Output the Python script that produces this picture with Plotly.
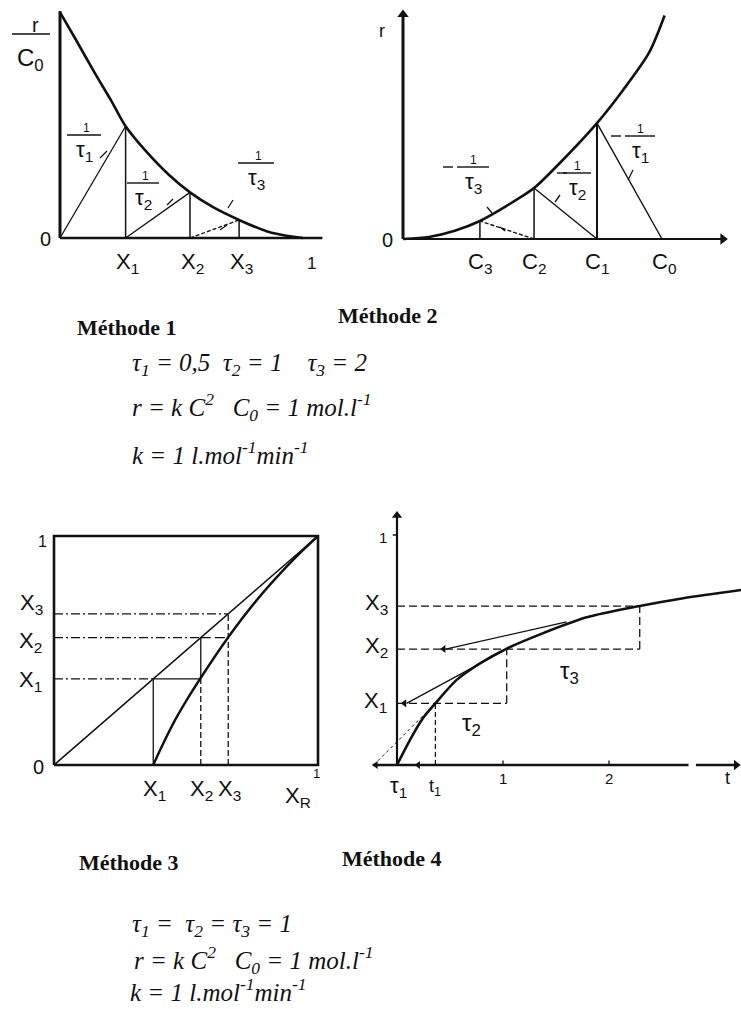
import plotly.graph_objects as go

W, H = 741, 1009
INK = "#111111"
NB = "\u00a0"

# ---------------- Méthode 1 : r/C0 versus conversion X ----------------
m1_curve_x = [0.0, 0.062, 0.144, 0.213, 0.27, 0.35, 0.45, 0.535, 0.63, 0.737, 0.85, 0.96, 1.0]
m1_curve_y = [0.99, 0.876, 0.722, 0.598, 0.49, 0.385, 0.275, 0.20, 0.135, 0.079, 0.03, 0.005, 0.0]
m1_stage_x = [0.27, 0.535, 0.737]
m1_stage_y = [0.49, 0.20, 0.079]
m1_tick_text = ["X<sub>1</sub>", "X<sub>2</sub>", "X<sub>3</sub>"]

# ---------------- Méthode 2 : r versus concentration C ----------------
m2_curve_c = [0.0, 0.1, 0.2, 0.297, 0.4, 0.506, 0.6, 0.749, 0.85, 0.95, 1.01]
m2_curve_r = [0.0, 0.01, 0.04, 0.087, 0.16, 0.246, 0.36, 0.56, 0.72, 0.90, 1.08]
m2_c0 = 1.0
m2_stage_c = [0.749, 0.506, 0.297]
m2_stage_r = [0.56, 0.246, 0.087]
m2_tick_text = ["C<sub>1</sub>", "C<sub>2</sub>", "C<sub>3</sub>"]

# ---------------- Méthode 3 : X_out versus X_in ----------------
m3_curve_x = [0.376, 0.402, 0.452, 0.503, 0.556, 0.66, 0.768, 0.881, 0.95, 1.0]
m3_curve_y = [0.0, 0.066, 0.182, 0.284, 0.381, 0.558, 0.72, 0.866, 0.946, 1.0]
m3_stage = [0.376, 0.556, 0.66]
m3_tick_text = ["X<sub>1</sub>", "X<sub>2</sub>", "X<sub>3</sub>"]

# ---------------- Méthode 4 : batch conversion X(t) ----------------
m4_curve_t = [0.0, 0.123, 0.233, 0.362, 0.563, 0.783, 1.035, 1.35, 1.79, 2.29, 2.7, 3.25]
m4_curve_x = [0.0, 0.109, 0.196, 0.268, 0.37, 0.442, 0.506, 0.568, 0.642, 0.691, 0.725, 0.761]
m4_stage_t = [0.362, 1.035, 2.29]
m4_stage_x = [0.268, 0.504, 0.691]
m4_chord_start = [0.09, 0.46]
m4_chord2_end = (1.6, 0.622)
m4_tau1_start = -0.22
m4_t_ticks = [1, 2]
m4_t_tick_text = ["1", "2"]

fig = go.Figure()
layout = dict(width=W, height=H, margin=dict(l=0, r=0, t=0, b=0),
              paper_bgcolor="white", plot_bgcolor="rgba(0,0,0,0)", showlegend=False)


def setup_axes(n, box, x0, sx, y0, sy):
    """Place subplot n so that data (0,0) sits at pixel (x0, y0) with sx, sy px per unit."""
    left, top, right, bottom = box
    sfx = "" if n == 1 else str(n)
    layout["xaxis" + sfx] = dict(domain=[left / W, right / W],
                                 range=[(left - x0) / sx, (right - x0) / sx],
                                 visible=False, anchor="y" + sfx, fixedrange=True)
    layout["yaxis" + sfx] = dict(domain=[1 - bottom / H, 1 - top / H],
                                 range=[(y0 - bottom) / sy, (y0 - top) / sy],
                                 visible=False, anchor="x" + sfx, fixedrange=True)


setup_axes(1, (0, 0, 360, 290), 60, 243, 238, 228)
setup_axes(2, (360, 0, 741, 290), 403, 259, 239, 207)
setup_axes(3, (0, 480, 360, 840), 54, 264, 765, 229)
setup_axes(4, (360, 480, 741, 840), 397, 106, 765, 230)


def ax(n):
    return ("x", "y") if n == 1 else ("x%d" % n, "y%d" % n)


def line(n, xs, ys, width=1.3, dash="solid", shape="linear"):
    xa, ya = ax(n)
    fig.add_trace(go.Scatter(x=xs, y=ys, mode="lines", xaxis=xa, yaxis=ya,
                             line=dict(color=INK, width=width, dash=dash, shape=shape, smoothing=0.8),
                             hoverinfo="skip", cliponaxis=False))


def head(n, x, y, symbol, size=9):
    xa, ya = ax(n)
    fig.add_trace(go.Scatter(x=[x], y=[y], mode="markers", xaxis=xa, yaxis=ya,
                             marker=dict(symbol=symbol, size=size, color=INK, line=dict(width=0)),
                             hoverinfo="skip", cliponaxis=False))


annotations = []
shapes = []
LAB = "Liberation Sans Narrow, Liberation Sans, DejaVu Sans"


def P(px, py):
    return px / W, 1 - py / H


def text(px, py, s, size=20, family=LAB, xanchor="center", style="normal", weight="normal"):
    x, y = P(px, py)
    annotations.append(dict(x=x, y=y, xref="paper", yref="paper", text=s, showarrow=False,
                            xanchor=xanchor, yanchor="middle",
                            font=dict(size=size, family=family, color=INK, style=style, weight=weight)))


def tick_label(n, xval, py, s, size=22, xshift=0):
    xa, _ = ax(n)
    _, y = P(0, py)
    annotations.append(dict(x=xval, y=y, xref=xa, yref="paper", text=s, showarrow=False,
                            xanchor="center", yanchor="middle", xshift=xshift,
                            font=dict(size=size, family=LAB, color=INK)))


def seg(p1, p2, width=1.3):
    x1, y1 = P(*p1)
    x2, y2 = P(*p2)
    shapes.append(dict(type="line", xref="paper", yref="paper", x0=x1, y0=y1, x1=x2, y1=y2,
                       line=dict(color=INK, width=width)))


def frac(cx, bar_y, half, den, num_dx=0, minus_x=None, den_dx=0):
    seg((cx - half, bar_y), (cx + half, bar_y), 1.4)
    text(cx + num_dx, bar_y - 7, "1", size=12)
    text(cx + den_dx, bar_y + 16, den, size=22)
    if minus_x is not None:
        seg((minus_x - 5, bar_y), (minus_x + 5, bar_y), 1.4)


# ======================= Méthode 1 =======================
line(1, [0, 0], [0, 0.995], width=3)
line(1, [0, 1.08], [0, 0], width=2.5)
line(1, m1_curve_x, m1_curve_y, width=2.6, shape="spline")
starts = [0.0] + m1_stage_x[:-1]
for i, (sx0, xs, ys) in enumerate(zip(starts, m1_stage_x, m1_stage_y)):
    d = "solid" if i < 2 else "4px,2px"
    line(1, [sx0, xs], [0, ys], width=1.3, dash=d)
    line(1, [xs, xs], [0, ys], width=1.5)
for xs, s in zip(m1_stage_x, m1_tick_text):
    tick_label(1, xs, 263, s, xshift=2)
tick_label(1, 1.0, 263, "1", size=17, xshift=8)
text(45, 239, "0", size=20)
# r / C0 axis caption
seg((12, 34), (50, 34), 1.5)
text(35, 25, "r", size=20)
text(30, 59, "C<sub>0</sub>", size=24)
frac(84, 135, 17, "τ<sub>1</sub>", num_dx=2)
frac(143, 183, 16, "τ<sub>2</sub>", num_dx=2)
frac(256, 163, 18, "τ<sub>3</sub>", num_dx=2)
seg((100, 158), (107, 151))
seg((167, 205), (173, 199))
seg((228, 208), (233, 200))
seg((220, 230), (227, 225))

# ======================= Méthode 2 =======================
line(2, [0, 0], [0, 1.08], width=3)
head(2, 0, 1.085, "triangle-up", 10)
line(2, [0, 1.23], [0, 0], width=2)
head(2, 1.235, 0, "triangle-right", 10)
line(2, m2_curve_c, m2_curve_r, width=2.6, shape="spline")
starts = [m2_c0] + m2_stage_c[:-1]
for i, (c_start, cs, rs) in enumerate(zip(starts, m2_stage_c, m2_stage_r)):
    d = "solid" if i < 2 else "4px,2px"
    line(2, [c_start, cs], [0, rs], width=1.4, dash=d)
    line(2, [cs, cs], [0, rs], width=2.0 if i == 0 else 1.5)
for cs, s in zip(m2_stage_c, m2_tick_text):
    tick_label(2, cs, 263, s)
tick_label(2, m2_c0, 263, "C<sub>0</sub>", xshift=2)
text(382, 31, "r", size=18)
text(388, 240, "0", size=20)
frac(640, 136, 15, "τ<sub>1</sub>", minus_x=616)
frac(577, 173, 14, "τ<sub>2</sub>", minus_x=562)
frac(473, 167, 16, "τ<sub>3</sub>", minus_x=448)
seg((628, 180), (633, 170))
seg((555, 202), (560, 195))
seg((487, 207), (492, 213))
seg((500, 227), (505, 231))

# ======================= Méthode 3 =======================
line(3, [0, 1, 1, 0, 0], [0, 0, 1, 1, 0], width=2.6)
line(3, [0, 1], [0, 1], width=1.6)
line(3, m3_curve_x, m3_curve_y, width=2.4, shape="spline")
DD = "9px,3px,2px,3px"
x1, x2, x3 = m3_stage
# X1: solid drop from the diagonal, dash-dot level, solid between diagonal and curve
line(3, [x1, x1], [0, x1], width=1.3)
line(3, [0, x1], [x1, x1], width=1.3, dash=DD)
line(3, [x1, x2], [x1, x1], width=1.3)
# X2: drop from the diagonal to the curve, then dashed to the axis
line(3, [x2, x2], [x1, x2], width=1.3)
line(3, [x2, x2], [0, x1], width=1.3, dash="6px,3px")
line(3, [0, x2], [x2, x2], width=1.3, dash=DD)
line(3, [x2, x3], [x2, x2], width=1.3, dash="10px,4px")
# X3
line(3, [x3, x3], [0, x3], width=1.3, dash="6px,3px")
line(3, [0, x3], [x3, x3], width=1.3, dash=DD)
for xs, s in zip(m3_stage, m3_tick_text):
    tick_label(3, xs, 790, s, xshift=1)
text(31, 604, "X<sub>3</sub>", size=22)
text(30, 642, "X<sub>2</sub>", size=22)
text(30, 681, "X<sub>1</sub>", size=22)
text(42, 541, "1", size=16)
text(38, 767, "0", size=20)
text(298, 797, "X<sub>R</sub>", size=22)
text(316, 773, "1", size=13)

# ======================= Méthode 4 =======================
line(4, [0, 0], [0, 1.085], width=2.2)
head(4, 0, 1.085, "triangle-up", 9)
line(4, [-0.04, 0], [1, 1], width=1.5)
line(4, [-0.23, 2.75], [0, 0], width=2.4)
line(4, [2.82, 3.2], [0, 0], width=2.4)
head(4, 3.2, 0, "triangle-right", 9)
for tv in m4_t_ticks:
    line(4, [tv, tv], [0, 0.02], width=1.3)
line(4, m4_curve_t, m4_curve_x, width=2.6, shape="spline")
DASH = "8px,4px"
t1, t2, t3 = m4_stage_t
x1, x2, x3 = m4_stage_x
line(4, [t1, t1], [0, x1], width=1.2, dash="5px,3px")
line(4, [m4_tau1_start, t1], [0, x1], width=1.0, dash="3px,3px")
line(4, [0, t2], [x1, x1], width=1.3, dash=DASH)
line(4, [t2, t2], [x1, x2], width=1.3, dash=DASH)
line(4, [0, t3], [x2, x2], width=1.3, dash=DASH)
line(4, [t3, t3], [x2, x3], width=1.3, dash=DASH)
line(4, [0, t3], [x3, x3], width=1.3, dash=DASH)
line(4, [m4_chord_start[0], t2], [x1, x2], width=1.3)
line(4, [m4_chord_start[1], m4_chord2_end[0]], [x2, m4_chord2_end[1]], width=1.3)
head(4, m4_chord_start[0] - 0.02, x1, "triangle-left", 7)
head(4, m4_chord_start[1] - 0.02, x2, "triangle-left", 7)
head(4, -0.2, 0, "triangle-left", 7)
head(4, 0.2, 0, "triangle-left", 7)
for tv, s in zip(m4_t_ticks, m4_t_tick_text):
    tick_label(4, tv, 778, s, size=15)
tick_label(4, 3.12, 778, "t", size=18)
tick_label(4, 0.0, 787, "τ<sub>1</sub>", size=22, xshift=1)
tick_label(4, t1, 787, "t<sub>1</sub>", size=18)
text(383, 537, "1", size=15)
text(376, 604, "X<sub>3</sub>", size=22)
text(376, 647, "X<sub>2</sub>", size=22)
text(375, 702, "X<sub>1</sub>", size=22)
text(569, 672, "τ<sub>3</sub>", size=24)
text(471, 724, "τ<sub>2</sub>", size=24)

# ======================= Captions =======================
SERIF = "Liberation Serif, Times New Roman, serif"
text(127, 327, "Méthode 1", size=22, family=SERIF, weight="bold")
text(388, 315, "Méthode 2", size=22, family=SERIF, weight="bold")
text(129, 862, "Méthode 3", size=22, family=SERIF, weight="bold")
text(392, 858, "Méthode 4", size=22, family=SERIF, weight="bold")

S2, S4 = NB * 2, NB * 4
formula_top = [
    "τ<sub>1</sub> = 0,5" + S2 + "τ<sub>2</sub> = 1" + S4 + "τ<sub>3</sub> = 2",
    "r = k C<sup>2</sup>" + NB * 3 + "C<sub>0</sub> = 1 mol.l<sup>-1</sup>",
    "k = 1 l.mol<sup>-1</sup>min<sup>-1</sup>",
]
formula_bottom = [
    "τ<sub>1</sub> =" + S2 + "τ<sub>2</sub> = τ<sub>3</sub> = 1",
    "r = k C<sup>2</sup>" + NB * 3 + "C<sub>0</sub> = 1 mol.l<sup>-1</sup>",
    "k = 1 l.mol<sup>-1</sup>min<sup>-1</sup>",
]
for (px, py), s in zip([(130, 365), (130, 407), (130, 453)], formula_top):
    text(px, py, s, size=25, family=SERIF, xanchor="left", style="italic")
for (px, py), s in zip([(130, 925), (132, 960), (128, 990)], formula_bottom):
    text(px, py, s, size=25, family=SERIF, xanchor="left", style="italic")

layout["annotations"] = annotations
layout["shapes"] = shapes
fig.update_layout(**layout)
fig.write_html("out.html")
